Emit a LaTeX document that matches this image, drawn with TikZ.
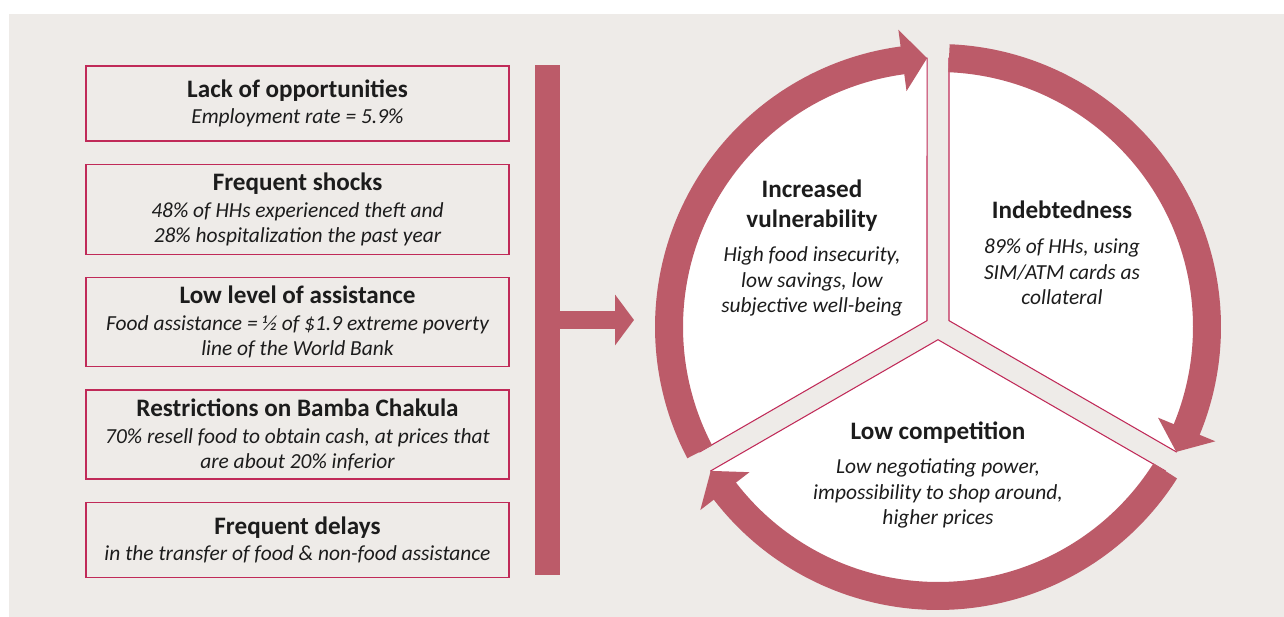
\documentclass[tikz,border=0pt]{standalone}
\usepackage{fontspec}
\setmainfont{Carlito}
\usetikzlibrary{arrows.meta, positioning, calc}
\definecolor{bgbeige}{RGB}{238,235,232}
\definecolor{ringred}{RGB}{188,91,105}
\definecolor{edgered}{RGB}{192,42,88}
\definecolor{inkgray}{RGB}{28,28,28}
\newcommand{\heading}[1]{{\fontsize{14.3}{16}\selectfont\bfseries #1}}
\newcommand{\detail}[1]{{\itshape #1}}

\begin{document}
\begin{tikzpicture}[
		x=0.02cm, y=0.02cm,
		node distance=0.44cm,
		causebox/.style={draw=edgered, line width=0.8pt, minimum width=8.46cm,
			inner sep=0pt, align=center, text=inkgray,
			font=\fontsize{12.2}{14.2}\selectfont},
		sectortext/.style={inner sep=0pt, align=center, text=inkgray,
			font=\fontsize{12.2}{14.6}\selectfont},
		sector/.style={fill=white, draw=edgered, line width=0.6pt},
		ringarc/.style={draw=ringred, line width=0.56cm},
		bar/.style={fill=ringred, inner sep=0pt, minimum width=0.5cm, minimum height=10.2cm},
		arrow/.style={-{Triangle[width=1cm, length=0.38cm]}, line width=0.36cm, draw=ringred, fill=ringred}
	]
		\useasboundingbox (0,0) rectangle (1284,617);
		\fill[bgbeige] (9,0) rectangle (1284,603);

		% causes on the left
		\node[causebox, minimum height=1.5cm] (lack) at (297.5,513.5)
			{\heading{Lack of opportunities}\\[1pt] \detail{Employment rate = 5.9\%}};
		\node[causebox, minimum height=1.8cm, below=of lack] (shocks)
			{\heading{Frequent shocks}\\[1pt] \detail{48\% of HHs experienced theft and}\\ \detail{28\% hospitalization the past year}};
		\node[causebox, minimum height=1.78cm, below=of shocks] (assist)
			{\heading{Low level of assistance}\\[1pt] \detail{Food assistance = ½ of \$1.9 extreme poverty}\\ \detail{line of the World Bank}};
		\node[causebox, minimum height=1.78cm, below=of assist] (bamba)
			{\heading{Restrictions on Bamba Chakula}\\[1pt] \detail{70\% resell food to obtain cash, at prices that}\\ \detail{are about 20\% inferior}};
		\node[causebox, minimum height=1.5cm, below=of bamba] (delays)
			{\heading{Frequent delays}\\[1pt] \detail{in the transfer of food \& non-food assistance}};

		\node[bar] (bar) at (547.5,297) {};
		\coordinate (cycle) at (634,297);
		\draw[arrow] (bar.east) -- (cycle);

		% the vicious circle
		\coordinate (C) at (938,290);
		\foreach \a [evaluate=\a as \m using \a+60,
				evaluate=\a as \s using \a+2.34,
				evaluate=\a as \e using \a+117.66] in {-30,90,210}
			\draw[sector] ($(C)+(\m:12.7)$) -- ($(C)+(\s:269)$)
				arc[start angle=\s, end angle=\e, radius=269] -- cycle;

		\foreach \ta/\hb/\tip in {207.66/97.6/92.34, 87.66/-22.4/-27.66, -32.34/-142.4/-147.66} {
			\draw[ringarc] ($(C)+(\ta:269)$) arc[start angle=\ta, end angle=\hb-0.3, radius=269];
			\fill[ringred] ($(C)+(\hb:238)$) -- ($(C)+(\hb:300)$) -- ($(C)+(\tip:269)$) -- cycle;
		}

		\node[sectortext, anchor=north] (vuln) at (812,437)
			{\heading{Increased}\\[2pt] \heading{vulnerability}\\[5pt]
			\detail{High food insecurity,}\\ \detail{low savings, low}\\ \detail{subjective well-being}};
		\node[sectortext, anchor=north] (debt) at (1062,416)
			{\heading{Indebtedness}\\[5pt]
			\detail{89\% of HHs, using}\\ \detail{SIM/ATM cards as}\\ \detail{collateral}};
		\node[sectortext, anchor=north] (compet) at (938,196)
			{\heading{Low competition}\\[5pt]
			\detail{Low negotiating power,}\\ \detail{impossibility to shop around,}\\ \detail{higher prices}};
	\end{tikzpicture}
\end{document}
